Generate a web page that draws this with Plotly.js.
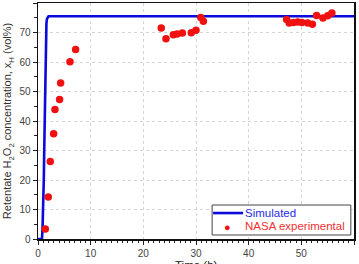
<!DOCTYPE html>
<html><head><meta charset="utf-8">
<script src="https://cdn.plot.ly/plotly-3.0.1.min.js"></script>
<style>html,body{margin:0;padding:0;background:#fff}#plot{width:359px;height:264px}</style>
</head><body><div id="plot"></div>
<script>
var simTime = [0, 0.75, 0.85, 1.0, 1.1, 1.2, 1.3, 1.4, 1.5, 1.6, 1.7, 1.85, 2.0, 60];
var simConc = [0, 0, 3, 10, 20, 32, 45, 58, 68, 73, 74.6, 75.2, 75.5, 75.5];
var expTime = [1.39, 1.95, 2.33, 2.97, 3.22, 4.1, 4.3, 6.07, 7.14,
  23.4, 24.3, 25.7, 26.4, 27.4, 29.1, 30.0, 30.9, 31.4,
  47.2, 47.7, 48.5, 49.3, 50.1, 51.2, 52.1, 52.9, 54.1, 55.0, 55.8];
var expConc = [3.4, 14.2, 26.3, 35.7, 43.9, 47.3, 52.9, 60.1, 64.2,
  71.5, 67.9, 69.2, 69.5, 69.8, 69.9, 70.8, 75.1, 73.8,
  74.4, 73.2, 73.4, 73.6, 73.4, 73.2, 72.8, 75.8, 74.9, 75.7, 76.6];
var seriesNames = ["Simulated", "NASA experimental"];
var seriesColors = ["#0a0adc", "#f01010"];
var legendTextColors = ["#2a2ae6", "#f03030"];
var xTitle = "Time (h)";
var yTitle = "Retentate H<sub>2</sub>O<sub>2</sub> concentration, x<sub>H</sub> (vol%)";

var font = "Arial, 'Liberation Sans', sans-serif";
var traces = [
  {x: simTime, y: simConc, mode: "lines", name: seriesNames[0],
   line: {color: seriesColors[0], width: 2.6}},
  {x: expTime, y: expConc, mode: "markers", name: seriesNames[1],
   marker: {color: seriesColors[1], size: 7.5}}
];
var axisCommon = {
  showline: true, linecolor: "#111", linewidth: 1.5, mirror: true,
  ticks: "outside", ticklen: 4, tickwidth: 1, tickcolor: "#222",
  showgrid: true, gridcolor: "#d4d4d4", griddash: "dot", gridwidth: 1,
  zeroline: false, tickfont: {family: font, size: 10, color: "#444"}
};
// hand-drawn compact legend (paper coordinates of the plot area)
var lg = {x0: 0.551, x1: 0.990, y0: 0.017, y1: 0.144, row1: 0.110, row2: 0.055,
  lineX0: 0.554, lineX1: 0.649, dotX: 0.601, textX: 0.655};
var layout = {
  width: 359, height: 264,
  margin: {l: 38, r: 5, t: 3, b: 25},
  paper_bgcolor: "#fff", plot_bgcolor: "#fff",
  showlegend: false,
  xaxis: Object.assign({}, axisCommon, {
    range: [0, 60], dtick: 10, tick0: 0,
    minor: {dtick: 1, ticklen: 2.5, ticks: "outside", tickcolor: "#222", showgrid: false}
  }),
  yaxis: Object.assign({}, axisCommon, {
    range: [0, 80], dtick: 10, tick0: 0,
    minor: {dtick: 5, ticklen: 2.5, ticks: "outside", tickcolor: "#222", showgrid: false},
    title: {text: yTitle, font: {family: font, size: 11, color: "#333"}, standoff: 5}
  }),
  shapes: [
    {type: "rect", xref: "paper", yref: "paper", x0: lg.x0, x1: lg.x1, y0: lg.y0, y1: lg.y1,
     line: {color: "#444", width: 1}, fillcolor: "#fff", layer: "above"},
    {type: "line", xref: "paper", yref: "paper", x0: lg.lineX0, x1: lg.lineX1, y0: lg.row1, y1: lg.row1,
     line: {color: seriesColors[0], width: 2.6}, layer: "above"}
  ],
  annotations: [
    {xref: "paper", yref: "paper", x: 0.5, y: -0.075, text: xTitle, showarrow: false,
     xanchor: "center", yanchor: "top", font: {family: font, size: 11.5, color: "#222"}},
    {xref: "paper", yref: "paper", x: lg.dotX, y: lg.row2, text: "●", showarrow: false,
     xanchor: "center", yanchor: "middle", font: {size: 11, color: seriesColors[1]}},
    {xref: "paper", yref: "paper", x: lg.textX, y: lg.row1, text: seriesNames[0], showarrow: false,
     xanchor: "left", yanchor: "middle", xshift: -2, font: {family: font, size: 11.5, color: legendTextColors[0]}},
    {xref: "paper", yref: "paper", x: lg.textX, y: lg.row2, text: seriesNames[1], showarrow: false,
     xanchor: "left", yanchor: "middle", xshift: -2, font: {family: font, size: 11.5, color: legendTextColors[1]}}
  ]
};
Plotly.newPlot("plot", traces, layout, {staticPlot: true});
</script></body></html>
